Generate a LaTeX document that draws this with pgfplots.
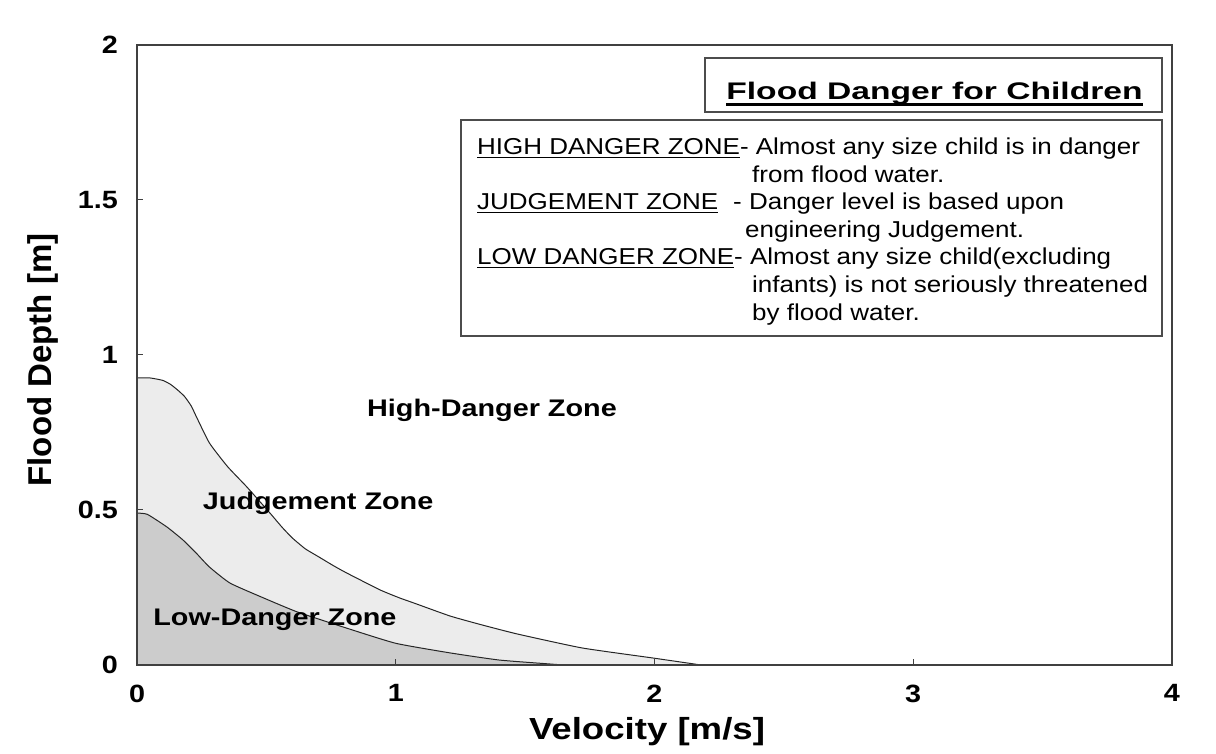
\documentclass[border=0pt]{standalone}
\usepackage{pgfplots}
\usepackage{pgfplotstable}
\pgfplotsset{compat=1.18}
\usepackage{fontspec}
\setmainfont{Liberation Sans}
\newfontfamily\fA[FakeStretch=1.2]{Liberation Sans}
\newfontfamily\fB[FakeStretch=1.13]{Liberation Sans}
\newfontfamily\fK[FakeStretch=1.15]{Liberation Sans}
\newfontfamily\fT[FakeStretch=1.4]{Liberation Sans}
\newsavebox\ulbox
\newcommand\ulx[3]{\sbox\ulbox{#3}\rlap{\rule[-#2]{\wd\ulbox}{#1}}\usebox\ulbox}
\definecolor{lowfill}{gray}{0.80}
\definecolor{midfill}{gray}{0.925}
\definecolor{boxline}{gray}{0.3}

\pgfplotstableread{
x y
0 0.926
0.05 0.926
0.10 0.918
0.13 0.905
0.16 0.885
0.185 0.865
0.21 0.835
0.23 0.80
0.28 0.716
0.35 0.64
0.425 0.574
0.514 0.49
0.56 0.445
0.60 0.41
0.65 0.375
0.70 0.35
0.76 0.32
0.81 0.297
0.94 0.242
1.016 0.216
1.07 0.20
1.21 0.158
1.33 0.13
1.47 0.10
1.72 0.055
1.99 0.023
2.18 0.0
}\uptab
\pgfplotstableread{
x y
0 0.49
0.04 0.486
0.116 0.445
0.178 0.403
0.23 0.36
0.28 0.316
0.36 0.264
0.49 0.216
0.62 0.171
0.81 0.119
1.0 0.07
1.21 0.039
1.40 0.016
1.60 0.003
1.65 0
}\lowtab

\begin{document}
\begin{tikzpicture}[x=1pt,y=1pt]
\useasboundingbox (0,0) rectangle (1216,754);
\begin{axis}[
  at={(137pt,89pt)}, anchor=south west,
  scale only axis, width=1035pt, height=620pt,
  xmin=0, xmax=4, ymin=0, ymax=2,
  xtick={0,1,2,3,4}, ytick={0,0.5,1,1.5,2},
  tick pos=left, tick align=inside, major tick length=6pt,
  axis on top,
  axis line style={line width=1.5pt, black!75},
  every tick/.style={black!75, line width=1pt},
  /pgf/number format/assume math mode=true,
  ticklabel style={font=\fontsize{25}{30}\fK\bfseries, inner sep=0pt},
  yticklabel style={xshift=-19pt},
  xticklabel style={yshift=-19.5pt},
  xlabel={Velocity [m/s]}, ylabel={Flood Depth [m]},
  xlabel style={font=\fontsize{30.5}{36}\fA\bfseries, at={(axis description cs:0.4928,-0.108)}, anchor=center},
  ylabel style={font=\fontsize{33}{38}\selectfont\bfseries, at={(axis description cs:-0.0913,0.492)}, anchor=center},
]
\addplot[fill=midfill, draw=none, smooth, tension=0.3] table {\uptab} \closedcycle;
\addplot[fill=lowfill, draw=none, smooth, tension=0.3] table {\lowtab} \closedcycle;
\addplot[black!85, line width=1pt, smooth, tension=0.3] table {\uptab};
\addplot[black!85, line width=1pt, smooth, tension=0.3] table {\lowtab};
\node[font=\fontsize{24}{28}\fA\bfseries] at (axis cs:1.372,0.823) {High-Danger Zone};
\node[font=\fontsize{24}{28}\fA\bfseries] at (axis cs:0.70,0.523) {Judgement Zone};
\node[font=\fontsize{24}{28}\fA\bfseries] at (axis cs:0.533,0.145) {Low-Danger Zone};
\end{axis}
\draw[boxline, line width=1.5pt] (705,642) rectangle (1162,696);
\node[anchor=base, font=\fontsize{24}{28}\fT\bfseries, inner sep=0pt] at (934.5,654) {\ulx{3pt}{6pt}{Flood Danger for Children}};
\draw[boxline, line width=1.5pt] (461,418) rectangle (1162,634);
\begin{scope}[every node/.style={anchor=base west, inner sep=0pt, font=\fontsize{23}{27}\fB}]
\node at (477,599) {\ulx{1.2pt}{3pt}{HIGH DANGER ZONE}- Almost any size child is in danger};
\node at (752,571) {from flood water.};
\node at (477,544) {\ulx{1.2pt}{3pt}{JUDGEMENT ZONE}};
\node at (733,544) {- Danger level is based upon};
\node at (745,516) {engineering Judgement.};
\node at (477,489) {\ulx{1.2pt}{3pt}{LOW DANGER ZONE}- Almost any size child(excluding};
\node at (752,461) {infants) is not seriously threatened};
\node at (752,433) {by flood water.};
\end{scope}
\end{tikzpicture}
\end{document}
